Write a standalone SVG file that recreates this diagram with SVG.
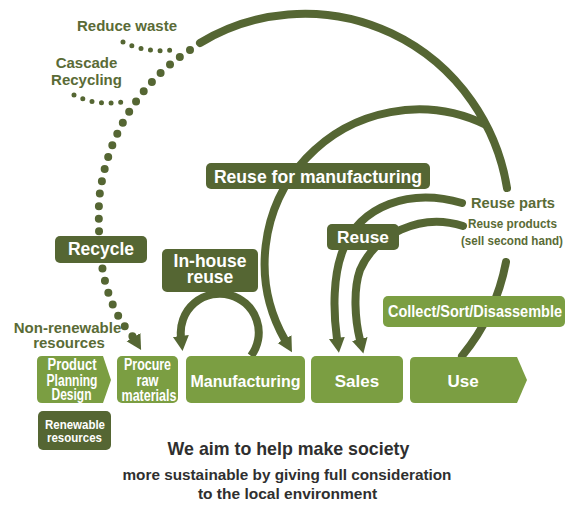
<svg xmlns="http://www.w3.org/2000/svg" width="566" height="507" viewBox="0 0 566 507">
<style>
.dk{fill:#556633}
.lt{fill:#7b9e42}
.ln{fill:none;stroke:#556633;stroke-width:8}
.dot{fill:none;stroke:#556633;stroke-linecap:round}
text{font-family:"Liberation Sans",Arial,Helvetica,sans-serif;font-weight:bold;text-anchor:middle}
.w{fill:#ffffff}
.g{fill:#5a6b36}
.b{fill:#2f2f2f}
</style>
<defs>
<marker id="ah" markerUnits="userSpaceOnUse" markerWidth="18" markerHeight="18" refX="1" refY="8" orient="auto" viewBox="0 0 18 18">
<path d="M0,0 L15,8 L0,16 Z" fill="#556633"/>
</marker>
</defs>
<rect width="566" height="507" fill="#ffffff"/>
<g id="connectors">
<path class="ln" d="M 200 43 A 205 208 0 0 1 507 188" stroke-linecap="round" stroke-width="8.5"/>
<path class="ln" d="M 506 262 A 205 208 0 0 1 462 356" stroke-linecap="round"/>
<path class="ln" d="M 486 125 A 154 154 0 0 0 285 340" marker-end="url(#ah)"/>
<path class="ln" d="M 462 203 C 410 188, 360 205, 343 250 C 333 275, 333 310, 337 339" marker-end="url(#ah)" stroke-linecap="round"/>
<path class="ln" d="M 463 226 C 420 212, 375 235, 360 270 C 353 290, 355 320, 360 340" marker-end="url(#ah)" stroke-linecap="round"/>
<path class="ln" d="M 251 356 A 39 39 0 1 0 181 337" marker-end="url(#ah)"/>
<path class="dot" stroke-width="8" stroke-dasharray="0 12.5" d="M 190 50 C 155 72, 108 120, 99 200 C 98 250, 100 300, 134 338"/>
<path fill="none" stroke="none" d="M 124 321 L 134 338" marker-end="url(#ah)"/>
<path class="dot" stroke-width="5" stroke-dasharray="0 9.6" d="M 123 42 Q 145 53 172 50"/>
<path class="dot" stroke-width="5" stroke-dasharray="0 9.6" d="M 74 95 Q 95 106 122 102"/>
</g>
<g id="label-reduce-waste"><text class="g" x="127" y="31" font-size="15">Reduce waste</text></g>
<g id="label-cascade"><text class="g" x="86.5" y="68" font-size="15">Cascade</text><text class="g" x="86.5" y="85" font-size="15">Recycling</text></g>
<g id="label-nonrenewable"><text class="g" x="67.5" y="333" font-size="15">Non-renewable</text><text class="g" x="69" y="348" font-size="15">resources</text></g>
<g id="label-reuse-parts"><text class="g" x="513" y="208" font-size="14.7">Reuse parts</text></g>
<g id="label-reuse-products"><text class="g" x="512.5" y="228" font-size="13.5" textLength="89" lengthAdjust="spacingAndGlyphs">Reuse products</text><text class="g" x="512" y="245" font-size="13.5" textLength="102" lengthAdjust="spacingAndGlyphs">(sell second hand)</text></g>
<g id="node-recycle"><rect class="dk" x="55" y="236" width="92" height="27" rx="5"/><text class="w" x="101" y="254.5" font-size="17.5">Recycle</text></g>
<g id="node-inhouse"><rect class="dk" x="162" y="249" width="96" height="43" rx="5"/><text class="w" x="210" y="267" font-size="17.5">In-house</text><text class="w" x="210" y="283" font-size="17.5">reuse</text></g>
<g id="node-reuse-mfg"><rect class="dk" x="206" y="163" width="224" height="26" rx="5"/><text class="w" x="318" y="183" font-size="17.6">Reuse for manufacturing</text></g>
<g id="node-reuse"><rect class="dk" x="327" y="224" width="72" height="26" rx="5"/><text class="w" x="363" y="243" font-size="17.3">Reuse</text></g>
<g id="node-collect"><rect class="lt" x="383" y="296" width="182" height="31" rx="5"/><text class="w" x="475" y="317" font-size="16" textLength="174" lengthAdjust="spacingAndGlyphs">Collect/Sort/Disassemble</text></g>
<g id="node-product"><path class="lt" d="M 42 356 H 103 L 111 380 L 103 403 H 42 Q 37 403 37 398 V 361 Q 37 356 42 356 Z"/><text class="w" x="72" y="370" font-size="16" textLength="49" lengthAdjust="spacingAndGlyphs">Product</text><text class="w" x="72" y="386" font-size="16" textLength="51" lengthAdjust="spacingAndGlyphs">Planning</text><text class="w" x="71.5" y="400" font-size="16" textLength="40" lengthAdjust="spacingAndGlyphs">Design</text></g>
<g id="node-procure"><rect class="lt" x="117" y="356" width="61" height="47" rx="5"/><text class="w" x="147.5" y="370" font-size="16" textLength="47" lengthAdjust="spacingAndGlyphs">Procure</text><text class="w" x="147.5" y="386" font-size="16" textLength="22" lengthAdjust="spacingAndGlyphs">raw</text><text class="w" x="149" y="401" font-size="16" textLength="55" lengthAdjust="spacingAndGlyphs">materials</text></g>
<g id="node-manufacturing"><rect class="lt" x="186" y="356" width="119" height="47" rx="5"/><text class="w" x="245.5" y="387" font-size="17" textLength="110" lengthAdjust="spacingAndGlyphs">Manufacturing</text></g>
<g id="node-sales"><rect class="lt" x="311" y="356" width="92" height="47" rx="5"/><text class="w" x="357" y="387" font-size="17">Sales</text></g>
<g id="node-use"><path class="lt" d="M 415 357 H 517 L 527 380 L 517 403 H 415 Q 410 403 410 398 V 362 Q 410 357 415 357 Z"/><text class="w" x="463" y="387" font-size="17">Use</text></g>
<g id="node-renewable"><rect class="dk" x="38" y="411" width="73" height="39" rx="5"/><text class="w" x="75" y="429" font-size="13.5" textLength="60" lengthAdjust="spacingAndGlyphs">Renewable</text><text class="w" x="74.5" y="442" font-size="13.5" textLength="55" lengthAdjust="spacingAndGlyphs">resources</text></g>
<g id="caption"><text class="b" x="288.5" y="455" font-size="17.8">We aim to help make society</text><text class="b" x="287" y="480" font-size="15.3">more sustainable by giving full consideration</text><text class="b" x="287.5" y="499" font-size="15.5">to the local environment</text></g>
</svg>
